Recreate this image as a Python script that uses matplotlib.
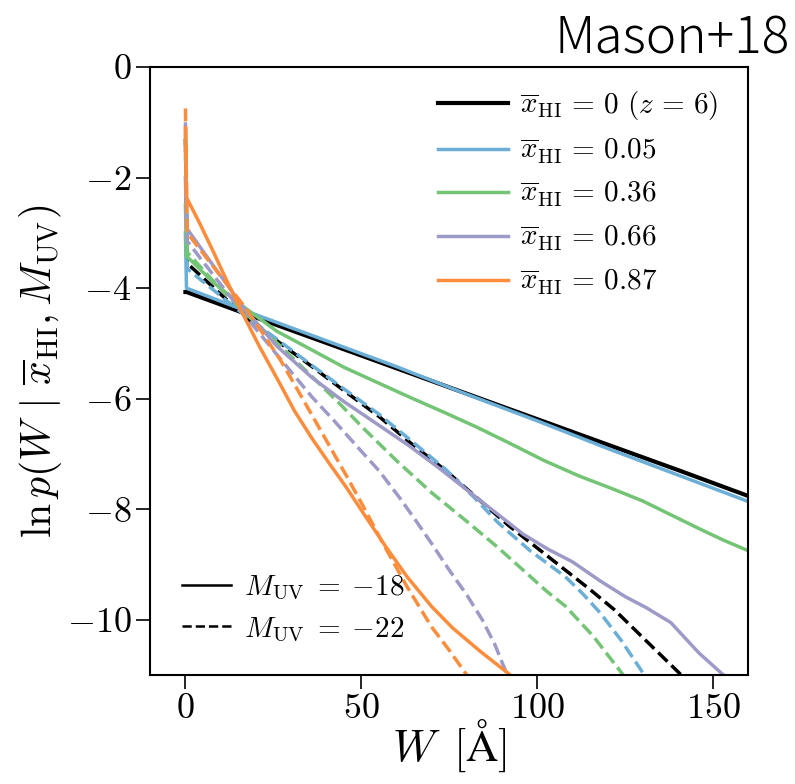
import matplotlib
matplotlib.use('Agg')
from matplotlib import pyplot as plt

plt.rcParams['font.family'] = 'serif'
plt.rcParams['font.serif'] = ['cmr10']
plt.rcParams['mathtext.fontset'] = 'cm'
plt.rcParams['axes.formatter.use_mathtext'] = True

# ---- data: W [A] and ln p, first point is the W=0 spike
xhi_labels = [r'$\overline{x}_\mathrm{HI}\,=\,0\ (z\,=\,6)$',
              r'$\overline{x}_\mathrm{HI}\,=\,0.05$',
              r'$\overline{x}_\mathrm{HI}\,=\,0.36$',
              r'$\overline{x}_\mathrm{HI}\,=\,0.66$',
              r'$\overline{x}_\mathrm{HI}\,=\,0.87$']
muv_labels = [r'$M_\mathrm{UV}\;=\;{-}18$', r'$M_\mathrm{UV}\;=\;{-}22$']
colors = ['k', '#6baed6', '#74c476', '#9e9ac8', '#fd8d3c']

# M_UV = -18 (solid)
w_black_18 = [0, 0.3, 20, 40, 60, 80, 100, 120, 140, 160]
y_black_18 = [-4.07, -4.07, -4.53, -4.99, -5.45, -5.91, -6.37, -6.83, -7.29, -7.76]
w_blue_18 = [0, 0.3, 20, 40, 60, 80, 100, 120, 140, 160]
y_blue_18 = [-3.0, -4.0, -4.48, -4.95, -5.42, -5.92, -6.4, -6.9, -7.38, -7.86]
w_green_18 = [0, 0.3, 8, 17, 26, 36, 45, 55, 64, 74, 83, 92, 102, 112, 121, 130, 138, 146, 153, 160]
y_green_18 = [-2.5, -3.42, -3.9, -4.36, -4.78, -5.12, -5.43, -5.72, -5.98, -6.26, -6.52, -6.8,
              -7.12, -7.4, -7.62, -7.85, -8.1, -8.35, -8.56, -8.75]
w_purple_18 = [0, 0.3, 8, 17, 26, 36, 45, 55, 64, 72, 80, 89, 96, 103, 110, 118, 125, 131, 138, 146, 153]
y_purple_18 = [-2.0, -2.91, -3.6, -4.39, -5.05, -5.62, -6.05, -6.48, -6.87, -7.25, -7.65, -8.1,
               -8.45, -8.72, -8.95, -9.3, -9.58, -9.78, -10.05, -10.6, -11.0]
w_orange_18 = [0, 0.3, 4, 7.7, 11.5, 15.3, 21, 26.7, 31, 36, 41, 45.7, 51.4, 57, 63, 70, 76, 84, 92]
y_orange_18 = [-1.1, -2.36, -2.82, -3.31, -3.83, -4.34, -5.05, -5.71, -6.22, -6.72, -7.18, -7.6,
               -8.15, -8.68, -9.22, -9.76, -10.15, -10.58, -10.98]

# M_UV = -22 (dashed)
w_black_22 = [0, 0.5, 17, 27, 36, 45, 55, 64, 74, 83, 92, 100, 108, 115, 122, 131, 141]
y_black_22 = [-1.3, -3.55, -4.52, -5.0, -5.42, -5.85, -6.32, -6.8, -7.3, -7.8, -8.3, -8.7,
              -9.1, -9.45, -9.82, -10.38, -11.0]
w_blue_22 = [0, 0.5, 17, 27, 36, 45, 55, 64, 74, 82, 89, 98, 108, 113, 118, 124, 130.5]
y_blue_22 = [-1.5, -3.65, -4.5, -4.97, -5.4, -5.82, -6.28, -6.75, -7.28, -7.78, -8.25, -8.75,
             -9.22, -9.53, -9.88, -10.38, -11.0]
w_green_22 = [0, 0.5, 9, 17, 27, 36, 44, 51, 60, 70, 80, 89, 96, 103, 108, 116, 124.5]
y_green_22 = [-1.2, -3.35, -3.95, -4.45, -5.05, -5.6, -6.1, -6.56, -7.12, -7.7, -8.22, -8.7,
              -9.1, -9.5, -9.75, -10.3, -11.0]
w_purple_22 = [0, 0.5, 9, 17, 27, 36, 42, 50, 55, 61, 66, 70, 75, 80, 84.4, 88, 91.5]
y_purple_22 = [-1.0, -3.15, -3.85, -4.5, -5.28, -5.97, -6.38, -6.95, -7.3, -7.8, -8.25, -8.62,
               -9.1, -9.55, -10.0, -10.45, -11.0]
w_orange_22 = [0, 0.5, 9, 17, 22, 27, 31, 36, 41, 46, 51, 56, 63, 70, 75, 80]
y_orange_22 = [-0.75, -3.0, -3.7, -4.35, -4.82, -5.3, -5.74, -6.3, -6.86, -7.42, -8.0, -8.6,
               -9.4, -10.13, -10.55, -11.0]

solid = [(w_black_18, y_black_18), (w_blue_18, y_blue_18), (w_green_18, y_green_18),
         (w_purple_18, y_purple_18), (w_orange_18, y_orange_18)]
dashed = [(w_black_22, y_black_22), (w_blue_22, y_blue_22), (w_green_22, y_green_22),
          (w_purple_22, y_purple_22), (w_orange_22, y_orange_22)]

fig = plt.figure(figsize=(7.95, 7.84), dpi=100)
ax = fig.add_axes([0.189, 0.139, 0.752, 0.7755])

handles = []
for i in range(5):
    w, y = solid[i]
    lw = 3.0 if i == 0 else 2.5
    h, = ax.plot(w, y, color=colors[i], lw=lw, ls='-', label=xhi_labels[i])
    handles.append(h)
    w, y = dashed[i]
    ax.plot(w, y, color=colors[i], lw=2.5, ls='--')

ax.set_xlim(-10, 160)
ax.set_ylim(-11, 0)
ax.set_xticks([0, 50, 100, 150])
ax.set_yticks([0, -2, -4, -6, -8, -10])
ax.tick_params(labelsize=26, length=10, width=1.2, direction='out')
for s in ax.spines.values():
    s.set_linewidth(1.5)

ax.set_xlabel(r'$W\ \,[\mathrm{\AA}]$', fontsize=32, labelpad=-6)
ax.set_ylabel(r'$\ln p(W\ |\ \overline{x}_\mathrm{HI}, M_\mathrm{UV})$', fontsize=30, labelpad=2)

leg1 = ax.legend(handles=handles, loc='upper right', bbox_to_anchor=(0.986, 1.0),
                 fontsize=21, frameon=False, handlelength=2.4, handletextpad=0.4,
                 borderaxespad=0.35, labelspacing=0.5)
ax.add_artist(leg1)

m18, = ax.plot([], [], 'k-', lw=1.8)
m22, = ax.plot([], [], 'k--', lw=1.8)
ax.legend([m18, m22], muv_labels, loc='lower left', fontsize=21, frameon=False,
          handlelength=1.7, handletextpad=0.45, borderaxespad=0.68, labelspacing=0.45)

fig.text(0.993, 0.932, 'Mason+18', fontsize=37, family=['Noto Sans CJK JP', 'DejaVu Sans'],
         weight='light', ha='right', va='baseline')

plt.savefig('out.png', dpi=100)
